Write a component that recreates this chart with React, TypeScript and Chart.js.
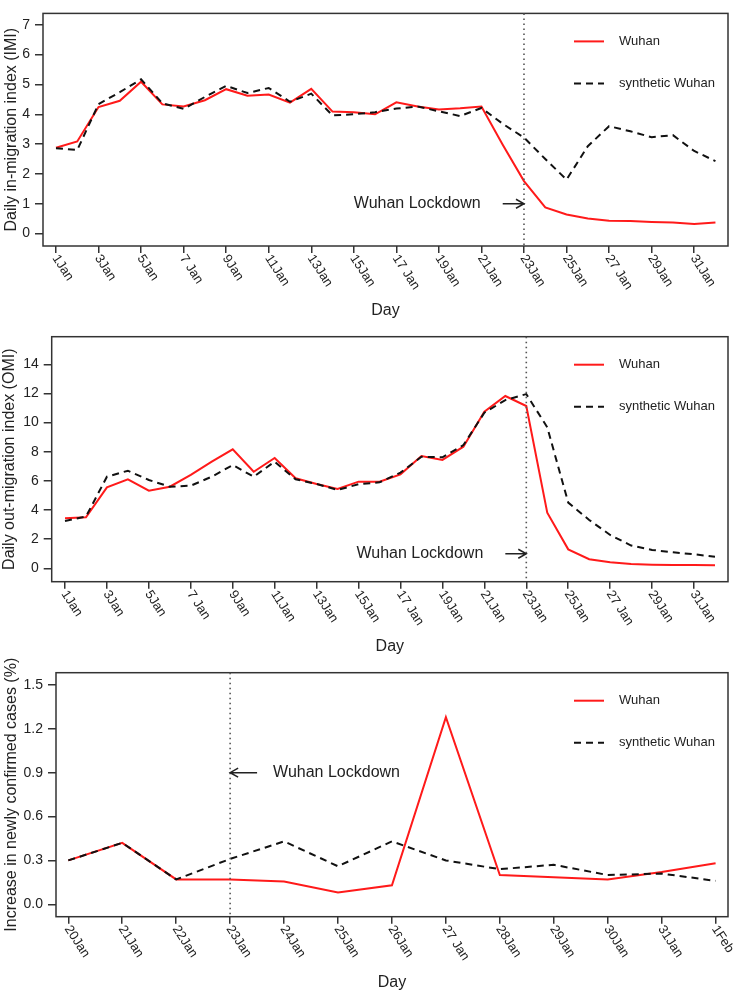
import { useEffect, useRef } from "react";
import { Chart, registerables } from "chart.js";

Chart.register(...registerables);

const FONT = "'Liberation Sans', Arial, sans-serif";
const INK = "#222";
const RED = "#ff1a1a";

// daily in-migration index, 1 Jan .. 1 Feb
const imiWuhan = [
  2.88, 3.09, 4.24, 4.45, 5.09, 4.33, 4.26, 4.47, 4.84, 4.62, 4.66, 4.39, 4.85, 4.09, 4.07, 4.0,
  4.4, 4.26, 4.16, 4.2, 4.26, 2.98, 1.76, 0.88, 0.64, 0.51, 0.43, 0.42, 0.39, 0.37, 0.32, 0.37,
];
const imiSynthetic = [
  2.86, 2.8, 4.34, 4.74, 5.17, 4.37, 4.18, 4.58, 4.95, 4.71, 4.88, 4.42, 4.69, 3.96, 4.0, 4.07,
  4.19, 4.26, 4.1, 3.94, 4.21, 3.68, 3.22, 2.5, 1.81, 2.93, 3.6, 3.43, 3.23, 3.3, 2.77, 2.43,
];

// daily out-migration index, 1 Jan .. 1 Feb
const omiWuhan = [
  3.43, 3.5, 5.56, 6.11, 5.33, 5.6, 6.41, 7.32, 8.17, 6.63, 7.57, 6.18, 5.79, 5.44, 5.95, 5.95,
  6.45, 7.71, 7.44, 8.35, 10.75, 11.83, 11.14, 3.82, 1.3, 0.62, 0.41, 0.3, 0.25, 0.23, 0.23, 0.21,
];
const omiSynthetic = [
  3.25, 3.55, 6.29, 6.7, 6.06, 5.6, 5.67, 6.29, 7.09, 6.29, 7.32, 6.11, 5.79, 5.38, 5.77, 5.9,
  6.57, 7.66, 7.62, 8.46, 10.68, 11.55, 11.96, 9.68, 4.51, 3.32, 2.29, 1.56, 1.26, 1.1, 0.96, 0.8,
];

// increase in newly confirmed cases (%), 20 Jan .. 1 Feb
const casesWuhan = [0.3, 0.42, 0.17, 0.17, 0.155, 0.08, 0.13, 1.28, 0.2, 0.185, 0.17, 0.22, 0.28];
const casesSynthetic = [0.3, 0.42, 0.17, 0.31, 0.43, 0.26, 0.43, 0.3, 0.24, 0.27, 0.2, 0.21, 0.16];

const janTicks = [
  "1Jan", "3Jan", "5Jan", "7 Jan", "9Jan", "11Jan", "13Jan", "15Jan",
  "17 Jan", "19Jan", "21Jan", "23Jan", "25Jan", "27 Jan", "29Jan", "31Jan",
];
const caseTicks = [
  "20Jan", "21Jan", "22Jan", "23Jan", "24Jan", "25Jan", "26Jan",
  "27 Jan", "28Jan", "29Jan", "30Jan", "31Jan", "1Feb",
];
const imiYTicks = [0, 1, 2, 3, 4, 5, 6, 7];
const omiYTicks = [0, 2, 4, 6, 8, 10, 12, 14];
const caseYTicks = [0, 0.3, 0.6, 0.9, 1.2, 1.5];

interface PanelProps {
  height: number;
  wuhan: number[];
  synthetic: number[];
  xLabels: string[];
  xStep: number;
  xRange: [number, number];
  yRange: [number, number];
  yTicks: number[];
  yDigits: number;
  yTitle: string;
  yWidth: number;
  yTitlePad: number;
  topPad: number;
  xAxisHeight: number;
  lockdownDay: number;
  arrowFrom: number;
  arrowY: number;
}

const Panel: React.FC<PanelProps> = (p) => {
  const canvasRef = useRef<HTMLCanvasElement | null>(null);
  const chartRef = useRef<Chart<"line"> | null>(null);

  useEffect(() => {
    if (chartRef.current) chartRef.current.destroy();
    const ctx = canvasRef.current?.getContext("2d");
    if (!ctx) return;

    const extras = {
      id: "extras",
      afterDraw(chart: Chart) {
        const c = chart.ctx;
        const area = chart.chartArea;
        const xs = chart.scales.x;
        const ys = chart.scales.y;
        c.save();

        // box
        c.strokeStyle = "#333";
        c.lineWidth = 1.5;
        c.strokeRect(area.left, area.top, area.right - area.left, area.bottom - area.top);

        // slanted day labels
        c.fillStyle = INK;
        c.font = `13px ${FONT}`;
        c.textAlign = "left";
        c.textBaseline = "middle";
        p.xLabels.forEach((label, k) => {
          const px = xs.getPixelForValue(k * p.xStep);
          c.save();
          c.translate(px - 1, area.bottom + 10);
          c.rotate((57 * Math.PI) / 180);
          c.fillText(label, 0, 0);
          c.restore();
        });

        // lockdown line
        const lx = xs.getPixelForValue(p.lockdownDay);
        c.strokeStyle = "#555";
        c.lineWidth = 1.6;
        c.setLineDash([1.5, 3.5]);
        c.beginPath();
        c.moveTo(lx, area.top);
        c.lineTo(lx, area.bottom);
        c.stroke();
        c.setLineDash([]);

        // arrow + text
        const ax = xs.getPixelForValue(p.arrowFrom);
        const ay = ys.getPixelForValue(p.arrowY);
        const dir = lx > ax ? 1 : -1;
        c.strokeStyle = INK;
        c.lineWidth = 1.5;
        c.beginPath();
        c.moveTo(ax, ay);
        c.lineTo(lx, ay);
        c.moveTo(lx - dir * 8, ay - 4.5);
        c.lineTo(lx, ay);
        c.lineTo(lx - dir * 8, ay + 4.5);
        c.stroke();
        c.font = `16px ${FONT}`;
        c.textBaseline = "middle";
        if (dir > 0) {
          c.textAlign = "right";
          c.fillText("Wuhan Lockdown", ax - 22, ay);
        } else {
          c.textAlign = "left";
          c.fillText("Wuhan Lockdown", ax + 16, ay);
        }

        // legend
        const l1 = area.top + 28;
        const l2 = area.top + 70;
        c.lineWidth = 2;
        c.strokeStyle = RED;
        c.beginPath();
        c.moveTo(area.right - 154, l1);
        c.lineTo(area.right - 124, l1);
        c.stroke();
        c.strokeStyle = "#111";
        c.setLineDash([7, 5]);
        c.beginPath();
        c.moveTo(area.right - 154, l2);
        c.lineTo(area.right - 124, l2);
        c.stroke();
        c.setLineDash([]);
        c.font = `13px ${FONT}`;
        c.textAlign = "left";
        c.fillText("Wuhan", area.right - 109, l1);
        c.fillText("synthetic Wuhan", area.right - 109, l2);

        c.restore();
      },
    };

    chartRef.current = new Chart(ctx, {
      type: "line",
      data: {
        datasets: [
          {
            label: "synthetic Wuhan",
            data: p.synthetic.map((v, i) => ({ x: i, y: v })),
            borderColor: "#111",
            borderWidth: 2,
            borderDash: [7, 5],
            pointRadius: 0,
            tension: 0,
          },
          {
            label: "Wuhan",
            data: p.wuhan.map((v, i) => ({ x: i, y: v })),
            borderColor: RED,
            borderWidth: 2,
            pointRadius: 0,
            tension: 0,
          },
        ],
      },
      options: {
        animation: false,
        responsive: false,
        layout: { padding: { top: p.topPad, right: 6, left: 0, bottom: 0 } },
        plugins: { legend: { display: false }, tooltip: { enabled: false } },
        scales: {
          x: {
            type: "linear",
            min: p.xRange[0],
            max: p.xRange[1],
            afterBuildTicks: (s: any) => {
              s.ticks = p.xLabels.map((_, k) => ({ value: k * p.xStep }));
            },
            afterFit: (s: any) => {
              s.height = p.xAxisHeight;
            },
            ticks: { display: false },
            grid: { drawOnChartArea: false, drawTicks: true, tickLength: 7, color: "#333", lineWidth: 1.5 },
            border: { display: false },
            title: {
              display: true,
              text: "Day",
              color: INK,
              font: { size: 16, family: FONT },
              padding: { top: 0, bottom: 0 },
            },
          },
          y: {
            type: "linear",
            min: p.yRange[0],
            max: p.yRange[1],
            afterBuildTicks: (s: any) => {
              s.ticks = p.yTicks.map((v) => ({ value: v }));
            },
            afterFit: (s: any) => {
              s.width = p.yWidth;
            },
            ticks: {
              color: INK,
              padding: 5,
              font: { size: 14, family: FONT },
              callback: (v: any) => Number(v).toFixed(p.yDigits),
            },
            grid: { drawOnChartArea: false, drawTicks: true, tickLength: 8, color: "#333", lineWidth: 1.5 },
            border: { display: false },
            title: {
              display: true,
              text: p.yTitle,
              color: INK,
              font: { size: 16, family: FONT },
              padding: { top: p.yTitlePad, bottom: 0 },
            },
          },
        },
      },
      plugins: [extras],
    });

    return () => {
      if (chartRef.current) {
        chartRef.current.destroy();
        chartRef.current = null;
      }
    };
  }, [p]);

  return (
    <canvas
      ref={canvasRef}
      width={734}
      height={p.height}
      style={{ display: "block", width: "734px", height: `${p.height}px` }}
    />
  );
};

const App = () => {
  useEffect(() => {
    document.body.style.margin = "0";
  }, []);

  return (
    <div style={{ width: 734, background: "#fff" }}>
      <Panel
        height={320}
        wuhan={imiWuhan}
        synthetic={imiSynthetic}
        xLabels={janTicks}
        xStep={2}
        xRange={[-0.61, 31.59]}
        yRange={[-0.415, 7.38]}
        yTicks={imiYTicks}
        yDigits={0}
        yTitle="Daily in-migration index (IMI)"
        yWidth={43}
        yTitlePad={2}
        topPad={2}
        xAxisHeight={74}
        lockdownDay={22}
        arrowFrom={21}
        arrowY={1}
      />
      <Panel
        height={336}
        wuhan={omiWuhan}
        synthetic={omiSynthetic}
        xLabels={janTicks}
        xStep={2}
        xRange={[-0.634, 31.62]}
        yRange={[-0.92, 15.9]}
        yTicks={omiYTicks}
        yDigits={0}
        yTitle="Daily out-migration index (OMI)"
        yWidth={51.7}
        yTitlePad={0}
        topPad={16.7}
        xAxisHeight={74.3}
        lockdownDay={22}
        arrowFrom={21}
        arrowY={1}
      />
      <Panel
        height={336}
        wuhan={casesWuhan}
        synthetic={casesSynthetic}
        xLabels={caseTicks}
        xStep={1}
        xRange={[-0.228, 12.23]}
        yRange={[-0.085, 1.584]}
        yTicks={caseYTicks}
        yDigits={1}
        yTitle="Increase in newly confirmed cases (%)"
        yWidth={56}
        yTitlePad={1.5}
        topPad={16.7}
        xAxisHeight={75.3}
        lockdownDay={3}
        arrowFrom={3.5}
        arrowY={0.9}
      />
    </div>
  );
};

export default App;
